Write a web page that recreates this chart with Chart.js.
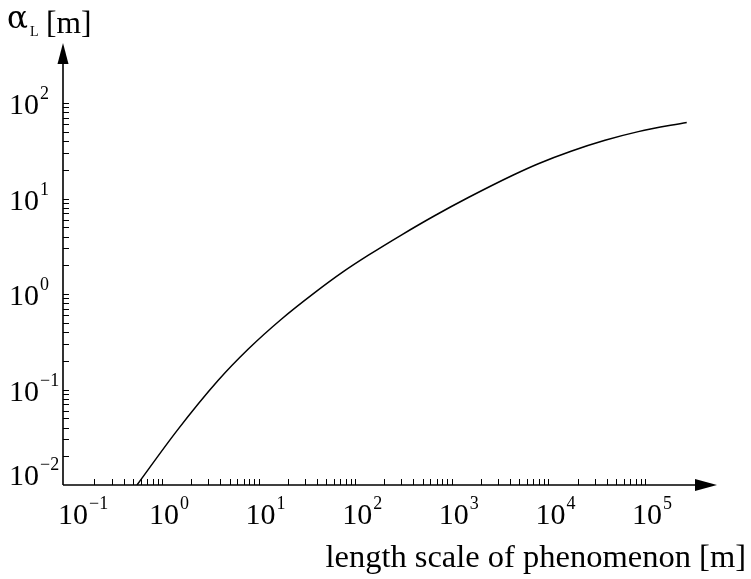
<!DOCTYPE html>
<html>
<head>
<meta charset="utf-8">
<script src="https://cdn.jsdelivr.net/npm/chart.js@4"></script>
<style>html,body{margin:0;padding:0;background:#fff}</style>
</head>
<body>
<canvas id="chart" width="751" height="579"></canvas>
<script>
// length scale of phenomenon [m] and longitudinal dispersivity [m]
const lengthScale = [0.551, 1.43, 3.80, 7.82, 17.3, 38.4, 75.3, 137, 303, 670, 1482, 4331, 7860, 17430, 38530, 85200, 270200];
const dispersivity = [0.01, 0.0371, 0.124, 0.265, 0.547, 1.039, 1.712, 2.548, 4.168, 6.637, 10.24, 17.63, 23.14, 31.44, 40.69, 50.18, 62.65];

const xDecades = [-1, 0, 1, 2, 3, 4, 5];
const yDecades = [-2, -1, 0, 1, 2];
const X_RANGE = [0.0944, 5.56e5];
const Y_RANGE = [0.01, 425];

const FONT = '"Liberation Serif", "Times New Roman", serif';

function minorTicks(fromExp, toExp) {
  const out = [];
  for (let k = fromExp; k < toExp; k++) {
    for (let m = 2; m <= 10; m++) out.push(m * Math.pow(10, k));
  }
  return out;
}

// "10" with a raised exponent, starting at x
function drawPower(ctx, exp, x, baseline) {
  const sup = exp < 0 ? '\u2212' + (-exp) : String(exp);
  ctx.textAlign = 'left';
  ctx.textBaseline = 'alphabetic';
  ctx.font = '30px ' + FONT;
  ctx.fillText('10', x, baseline);
  const w = ctx.measureText('10').width;
  ctx.font = '18px ' + FONT;
  ctx.fillText(sup, x + w + 1, baseline - 15);
}

function arrow(ctx, tipX, tipY, dir) {
  ctx.beginPath();
  if (dir === 'up') {
    ctx.moveTo(tipX, tipY);
    ctx.lineTo(tipX - 5.5, tipY + 21);
    ctx.lineTo(tipX + 5.5, tipY + 21);
  } else {
    ctx.moveTo(tipX, tipY);
    ctx.lineTo(tipX - 22, tipY - 6);
    ctx.lineTo(tipX - 22, tipY + 6);
  }
  ctx.closePath();
  ctx.fill();
}

const axesPlugin = {
  id: 'axesPlugin',
  afterDraw(chart) {
    const ctx = chart.ctx;
    const a = chart.chartArea;
    const xs = chart.scales.x, ys = chart.scales.y;
    ctx.save();
    ctx.strokeStyle = '#000';
    ctx.fillStyle = '#000';

    // axis lines
    ctx.lineWidth = 1.6;
    ctx.beginPath();
    ctx.moveTo(a.left, a.bottom);
    ctx.lineTo(a.right - 10, a.bottom);
    ctx.moveTo(a.left, a.bottom);
    ctx.lineTo(a.left, a.top + 10);
    ctx.stroke();
    arrow(ctx, a.right, a.bottom, 'right');
    arrow(ctx, a.left, a.top, 'up');

    // ticks, inside the plot
    ctx.lineWidth = 1;
    ctx.beginPath();
    minorTicks(-1, 5).forEach(v => {
      const px = Math.round(xs.getPixelForValue(v)) + 0.5;
      ctx.moveTo(px, a.bottom);
      ctx.lineTo(px, a.bottom - 6);
    });
    minorTicks(-2, 2).forEach(v => {
      const py = Math.round(ys.getPixelForValue(v)) + 0.5;
      ctx.moveTo(a.left, py);
      ctx.lineTo(a.left + 6, py);
    });
    ctx.stroke();

    // tick labels
    ctx.font = '30px ' + FONT;
    const w10 = ctx.measureText('10').width;
    xDecades.forEach(k => {
      const px = xs.getPixelForValue(Math.pow(10, k));
      const start = Math.max(px + 2 - w10 / 2, a.left - 5);
      drawPower(ctx, k, start, a.bottom + 39);
    });
    yDecades.forEach(k => {
      const py = ys.getPixelForValue(Math.pow(10, k));
      drawPower(ctx, k, 9, Math.min(py + 11, a.bottom));
    });

    // axis titles
    ctx.textAlign = 'right';
    ctx.font = '32.5px ' + FONT;
    ctx.fillText('length scale of phenomenon [m]', 746, 567);

    ctx.textAlign = 'left';
    ctx.font = '31px "DejaVu Serif", serif';
    ctx.fillText('\u03b1', 7, 28);
    ctx.font = '14px ' + FONT;
    ctx.fillText('L', 30, 36);
    ctx.font = '31.5px ' + FONT;
    ctx.fillText('[m]', 46, 33);
    ctx.restore();
  }
};

new Chart(document.getElementById('chart'), {
  type: 'line',
  data: {
    datasets: [{
      data: lengthScale.map((x, i) => ({ x, y: dispersivity[i] })),
      borderColor: '#000',
      borderWidth: 1.5,
      pointRadius: 0,
      fill: false,
      cubicInterpolationMode: 'monotone'
    }]
  },
  options: {
    responsive: false,
    animation: false,
    layout: { padding: { left: 63, right: 34, top: 43, bottom: 94 } },
    plugins: { legend: { display: false }, tooltip: { enabled: false } },
    scales: {
      x: { type: 'logarithmic', min: X_RANGE[0], max: X_RANGE[1], display: false },
      y: { type: 'logarithmic', min: Y_RANGE[0], max: Y_RANGE[1], display: false }
    }
  },
  plugins: [axesPlugin]
});
</script>
</body>
</html>
